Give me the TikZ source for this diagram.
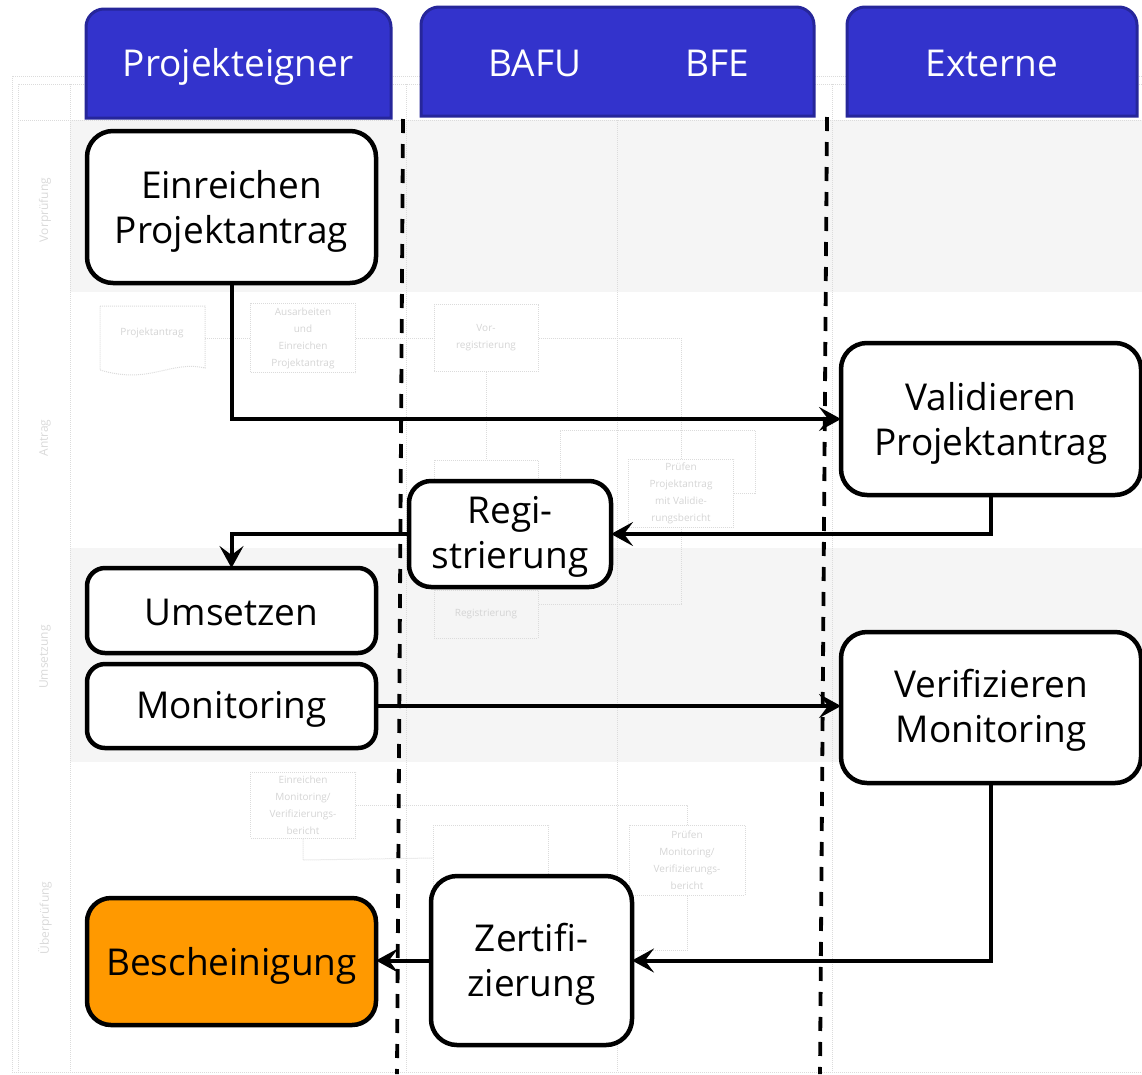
\documentclass[tikz,border=0pt]{standalone}
\usepackage{fontspec}
\setmainfont{Open Sans}
\usetikzlibrary{arrows.meta}
\definecolor{hdrfill}{HTML}{3333CC}
\definecolor{hdrline}{HTML}{26269A}
\definecolor{orng}{HTML}{FF9900}
\tikzset{
  box/.style={draw, line width=4.5pt, rounded corners=26pt, fill=white, align=center,
    inner sep=0pt, outer sep=0pt, font=\fontsize{37}{45}\selectfont},
  hdr/.style={draw=hdrline, line width=3pt, fill=hdrfill},
  hdrtext/.style={text=white, font=\fontsize{37}{40}\selectfont},
  arr/.style={line width=4pt, -{Stealth[length=22pt, width=24pt, inset=9pt]}},
  lane/.style={dash pattern=on 14pt off 11pt, line width=3.8pt},
  ghost/.style={draw=black!14, densely dotted, line width=1pt, align=center, text=black!17,
    inner sep=1pt, font=\fontsize{10}{17}\selectfont},
  ghostline/.style={draw=black!14, densely dotted, line width=1pt},
  lanelabel/.style={text=black!15, rotate=90, font=\fontsize{12}{14}\selectfont}
}
\begin{document}
\begin{tikzpicture}[x=1pt,y=-1pt]
\useasboundingbox (0,0) rectangle (1142,1074);
% ---------- faint background diagram ----------
\fill[black!4] (70,120) rectangle (1142,292);
\fill[black!4] (70,548) rectangle (1142,762);
\draw[ghostline] (12,76) rectangle (1160,1072);
\draw[ghostline] (18,84) rectangle (1160,1072);
\draw[ghostline] (70,84) -- (70,1072);
\draw[ghostline] (406,84) -- (406,1072);
\draw[ghostline] (617,120) -- (617,1072);
\draw[ghostline] (832,84) -- (832,1072);
\draw[ghostline] (18,120) -- (1142,120);
\node[lanelabel] (lv) at (45,210) {Vorprüfung};
\node[lanelabel] (la) at (45,438) {Antrag};
\node[lanelabel] (lu) at (45,657) {Umsetzung};
\node[lanelabel] (lue) at (45,918) {Überprüfung};
\draw[ghostline] (100,306) -- (205,306) -- (205,368) .. controls (170,360) and (150,385) .. (100,370) -- cycle;
\node[text=black!17, font=\fontsize{10}{12}\selectfont] (gdoc) at (152,333) {Projektantrag};
\node[ghost, minimum width=105pt, minimum height=69pt] (gaus) at (303,338) {Ausarbeiten\\und\\Einreichen\\Projektantrag};
\node[ghost, minimum width=104pt, minimum height=67pt] (gvor) at (486,338) {Vor-\\registrierung};
\node[ghost, minimum width=104pt, minimum height=68pt] (gpr1) at (486,494) {};
\node[ghost, minimum width=105pt, minimum height=68pt] (gpr2) at (681,493) {Prüfen\\Projektantrag\\mit Validie-\\rungsbericht};
\node[ghost, minimum width=104pt, minimum height=48pt] (greg) at (486,614) {Registrierung};
\node[ghost, minimum width=105pt, minimum height=66pt] (gein) at (303,805) {Einreichen\\Monitoring/\\Verifizierungs-\\bericht};
\node[ghost, minimum width=115pt, minimum height=66pt] (gpm1) at (491,858) {};
\node[ghost, minimum width=116pt, minimum height=70pt] (gpm2) at (687,860) {Prüfen\\Monitoring/\\Verifizierungs-\\bericht};
\draw[ghostline] (205,338) -- (gaus.west);
\draw[ghostline] (gaus.east) -- (gvor.west);
\draw[ghostline] (gvor.east) -- (681,338) -- (gpr2.north);
\draw[ghostline] (gvor.south) -- (gpr1.north);
\draw[ghostline] (gpr2.east) -- (755,493) -- (755,430) -- (560,430) -- (560,478);
\draw[ghostline] (681,527) -- (681,604) -- (538,604);
\draw[ghostline] (356,805) -- (687,805) -- (gpm2.north);
\draw[ghostline] (gein.south) -- (303,860) -- (gpm1.west);
\draw[ghostline] (gpm2.south) -- (687,950) -- (632,950);
% ---------- headers ----------
\draw[hdr] (86,118) [rounded corners=18pt] -- (86,9) -- (391,9) [sharp corners] -- (391,118) -- cycle;
\draw[hdr] (421,116) [rounded corners=18pt] -- (421,7) -- (814,7) [sharp corners] -- (814,116) -- cycle;
\draw[hdr] (847,116) [rounded corners=18pt] -- (847,7) -- (1137,7) [sharp corners] -- (1137,116) -- cycle;
\node[hdrtext] (hpe) at (238,67) {Projekteigner};
\node[hdrtext] (hbafu) at (535,63) {BAFU};
\node[hdrtext] (hbfe) at (717,63) {BFE};
\node[hdrtext] (hext) at (992,63) {Externe};
% ---------- swimlane separators ----------
\coordinate (s1t) at (403,119);
\coordinate (s1b) at (397,1074);
\coordinate (s2t) at (827,117);
\coordinate (s2b) at (820,1074);
\draw[lane] (s1t) -- (s1b);
\draw[lane] (s2t) -- (s2b);
% ---------- main nodes ----------
\node[box, minimum width=289pt, minimum height=152pt] (einr) at (231.5,207) {\raisebox{-4pt}[\height][\depth]{\parbox{280pt}{\centering Einreichen\\Projektantrag}}};
\node[box, minimum width=300pt, minimum height=152pt] (valid) at (991,419) {\raisebox{-4pt}[\height][\depth]{\parbox{290pt}{\centering Validieren\\Projektantrag}}};
\node[box, rounded corners=22pt, minimum width=202pt, minimum height=106pt] (reg) at (510,534) {\raisebox{-3pt}[\height][\depth]{\parbox{195pt}{\centering Regi-\\strierung}}};
\node[box, rounded corners=18pt, minimum width=289pt, minimum height=85pt] (ums) at (231.5,610.5) {\raisebox{-2pt}[\height][\depth]{Umsetzen}};
\node[box, rounded corners=18pt, minimum width=289pt, minimum height=84pt] (mon) at (231.5,706) {\raisebox{-3pt}[\height][\depth]{Monitoring}};
\node[box, minimum width=300pt, minimum height=151pt] (verif) at (991,707.5) {\raisebox{-3pt}[\height][\depth]{\parbox{290pt}{\centering Verifizieren\\Monitoring}}};
\node[box, fill=orng, rounded corners=24pt, minimum width=289pt, minimum height=127pt] (besch) at (231.5,961.5) {\raisebox{-4pt}[\height][\depth]{Bescheinigung}};
\node[box, minimum width=201pt, minimum height=169pt] (zert) at (531.5,960.5) {\raisebox{-4pt}[\height][\depth]{\parbox{195pt}{\centering Zertifi-\\zierung}}};
% ---------- connectors ----------
\draw[arr] (einr.south) |- (valid.west);
\draw[arr] (valid.south) |- (reg.east);
\draw[arr] (reg.west) -| (ums.north);
\draw[arr] (mon.east) -- (mon.east -| verif.west);
\draw[arr] (verif.south) |- (zert.east);
\draw[arr] (zert.west) -- (zert.west -| besch.east);
\end{tikzpicture}
\end{document}
